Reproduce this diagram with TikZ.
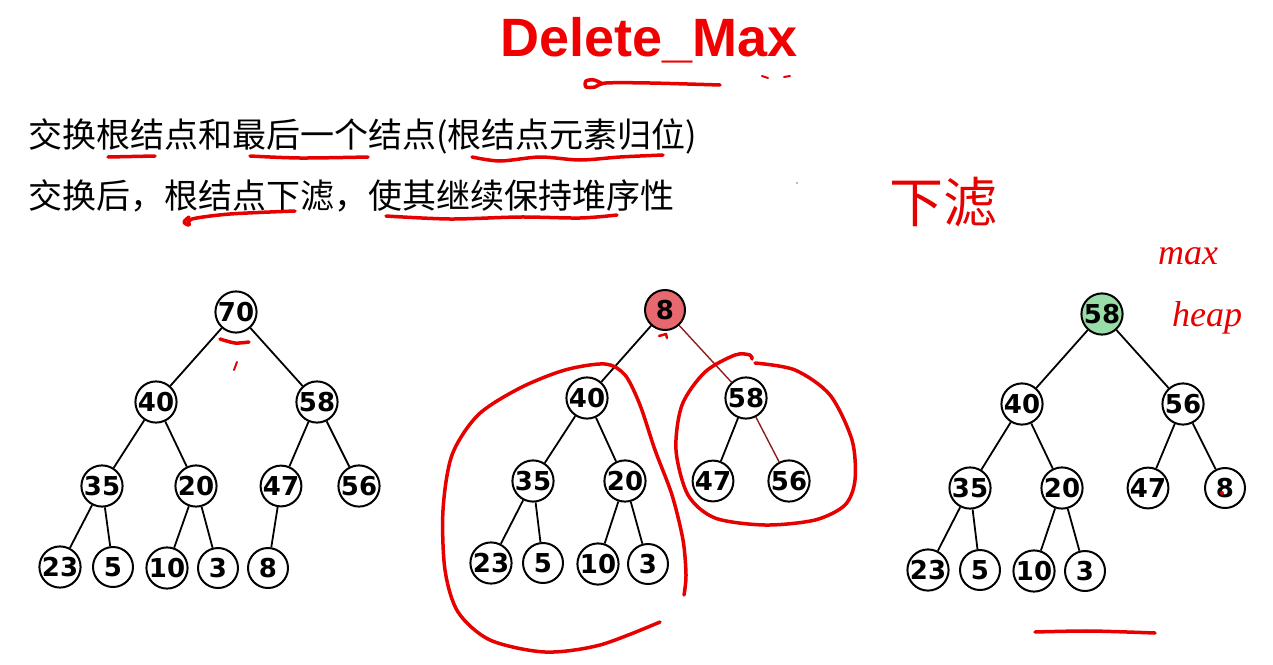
\documentclass[tikz,border=0pt]{standalone}
\usepackage{fontspec}
\newfontfamily\cjk{Noto Sans CJK SC}
\newfontfamily\numf{DejaVu Sans}
\newfontfamily\titlef{Liberation Sans}
\newfontfamily\handf{Liberation Serif}
\definecolor{hl}{RGB}{230,0,0}
\definecolor{titlered}{RGB}{240,0,0}
\definecolor{rootred}{RGB}{232,104,112}
\definecolor{rootgreen}{RGB}{152,220,168}
\definecolor{darkedge}{RGB}{140,30,30}
\begin{document}
\begin{tikzpicture}[x=1pt,y=-1pt,
  hn/.style={circle,draw=black,line width=2pt,fill=white,minimum size=40pt,inner sep=0pt,
    font=\numf\bfseries\fontsize{26}{26}\selectfont},
  edge/.style={line width=1.8pt},
  redge/.style={line width=1.4pt,draw=darkedge},
  ink/.style={draw=hl,line width=3.5pt,line cap=round,line join=round},
  body/.style={anchor=base west,inner sep=0pt,font=\cjk\fontsize{34}{34}\selectfont},
]
\useasboundingbox[fill=white] (0,0) rectangle (1273,664);

% title and text
\node[anchor=base,inner sep=0pt,text=titlered,font=\titlef\bfseries\fontsize{54}{54}\selectfont] (title) at (649,56) {Delete\_Max};
\node[body] (l1) at (28,147) {交换根结点和最后一个结点(根结点元素归位)};
\node[body] (l2) at (28,208) {交换后，根结点下滤，使其继续保持堆序性};
\node[text=hl,inner sep=0pt,font=\cjk\fontsize{54}{54}\selectfont] (xl) at (943,202) {下滤};
\node[text=hl,inner sep=0pt,font=\handf\itshape\fontsize{36}{36}\selectfont] (mx) at (1188,256) {max};
\node[text=hl,inner sep=0pt,font=\handf\itshape\fontsize{36}{36}\selectfont] (hp) at (1207,318) {heap};

% tree 1
\node[hn] (a70) at (236,312) {70};
\node[hn] (a40) at (156,402) {40};
\node[hn] (a58) at (317,402) {58};
\node[hn] (a35) at (102,486) {35};
\node[hn] (a20) at (196,486) {20};
\node[hn] (a47) at (281,486) {47};
\node[hn] (a56) at (359,486) {56};
\node[hn] (a23) at (60,567) {23};
\node[hn] (a5) at (113,567) {5};
\node[hn] (a10) at (167,568) {10};
\node[hn] (a3) at (218,568) {3};
\node[hn] (a8) at (268,568) {8};
\draw[edge] (a70)--(a40) (a70)--(a58) (a40)--(a35) (a40)--(a20) (a58)--(a47) (a58)--(a56)
  (a35)--(a23) (a35)--(a5) (a20)--(a10) (a20)--(a3) (a47)--(a8);

% tree 2
\node[hn,fill=rootred] (b8) at (665,310) {8};
\node[hn] (b40) at (587,398) {40};
\node[hn] (b58) at (746,398) {58};
\node[hn] (b35) at (533,481) {35};
\node[hn] (b20) at (625,481) {20};
\node[hn] (b47) at (713,481) {47};
\node[hn] (b56) at (789,481) {56};
\node[hn] (b23) at (491,563) {23};
\node[hn] (b5) at (543,563) {5};
\node[hn] (b10) at (598,564) {10};
\node[hn] (b3) at (648,564) {3};
\draw[edge] (b8)--(b40) (b40)--(b35) (b40)--(b20) (b58)--(b47)
  (b35)--(b23) (b35)--(b5) (b20)--(b10) (b20)--(b3);
\draw[redge] (b8)--(b58) (b58)--(b56);

% tree 3
\node[hn,fill=rootgreen] (c58) at (1102,314) {58};
\node[hn] (c40) at (1022,404) {40};
\node[hn] (c56) at (1183,404) {56};
\node[hn] (c35) at (970,488) {35};
\node[hn] (c20) at (1062,488) {20};
\node[hn] (c47) at (1148,488) {47};
\node[hn] (c8) at (1225,488) {8};
\node[hn] (c23) at (928,570) {23};
\node[hn] (c5) at (980,570) {5};
\node[hn] (c10) at (1034,571) {10};
\node[hn] (c3) at (1085,571) {3};
\draw[edge] (c58)--(c40) (c58)--(c56) (c40)--(c35) (c40)--(c20) (c56)--(c47) (c56)--(c8)
  (c35)--(c23) (c35)--(c5) (c20)--(c10) (c20)--(c3);

% hand-drawn red marks
\draw[ink] plot[smooth] coordinates {(603,84) (594,80) (586,81) (586,87) (595,87) (606,83) (650,83) (720,85)};
\draw[ink,line width=2pt] (762,76)--(768,78) (784,77)--(790,76);
\draw[ink] (108,157)--(155,156);
\draw[ink] plot[smooth] coordinates {(250,156) (300,158) (368,157)};
\draw[ink] plot[smooth] coordinates {(472,157) (500,161) (540,157) (580,160) (620,157) (663,155)};
\draw[ink] plot[smooth] coordinates {(189,217) (184,222) (189,225) (192,219) (230,214) (295,211)};
\draw[ink] plot[smooth] coordinates {(386,216) (450,219) (520,217) (580,218) (617,215)};
\draw[ink] plot[smooth] coordinates {(220,339) (235,343) (249,342)};
\draw[ink,line width=2pt] (237,362)--(234,370);
\draw[ink,line width=2.5pt] (659,336)--(666,334)--(667,338);
\fill[hl] (1222,493) circle (2pt);
\fill[gray!70] (797,183) circle (1.2pt);
\draw[ink] plot[smooth] coordinates {(660,622) (600,645) (545,652) (490,640) (458,612) (445,570) (443,510) (452,455) (478,415) (520,388) (565,370) (605,364) (625,375) (640,405) (655,450) (672,495) (683,540) (686,575) (684,595)};
\draw[ink] plot[smooth] coordinates {(755,363) (795,370) (830,395) (852,440) (855,480) (845,505) (815,520) (765,525) (715,518) (688,495) (676,450) (682,405) (705,372) (735,355) (750,355) (752,359)};
\draw[ink] plot[smooth] coordinates {(1035,632) (1090,631) (1155,633)};
\end{tikzpicture}
\end{document}
